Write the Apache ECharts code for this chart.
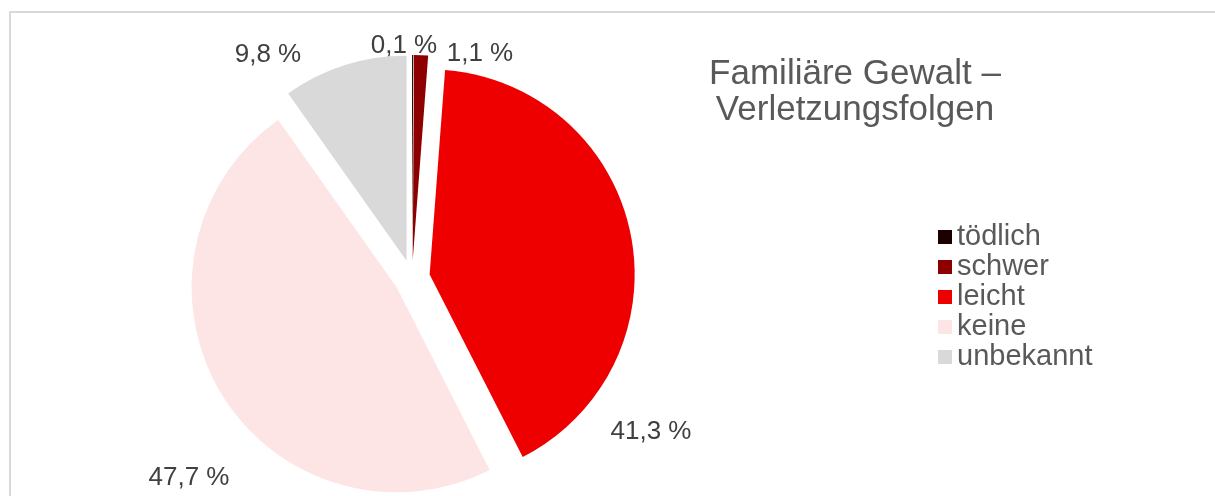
<!DOCTYPE html>
<html>
<head>
<meta charset="utf-8">
<script src="https://cdn.jsdelivr.net/npm/echarts@6/dist/echarts.min.js"></script>
<style>
html,body{margin:0;padding:0;background:#fff;}
#chart{width:1215px;height:496px;}
</style>
</head>
<body>
<div id="chart"></div>
<script>
const categories = ['tödlich', 'schwer', 'leicht', 'keine', 'unbekannt'];
const shares = [0.1, 1.1, 41.3, 47.7, 9.8];
const sliceColors = ['#1c0000', '#8e0000', '#ee0000', '#fde5e6', '#d9d9d9'];
const titleText = 'Familiäre Gewalt –\nVerletzungsfolgen';
// label anchor points (text centres), as placed in the reference
const labelSpots = [[404, 46], [480, 54], [651, 432], [189, 478], [268, 55]];

const chart = echarts.init(document.getElementById('chart'), null, {renderer: 'canvas'});
const fmt = v => v.toFixed(1).replace('.', ',') + ' %';
const FONT = 'Liberation Sans, Arial, sans-serif';

chart.setOption({
  animation: false,
  backgroundColor: '#ffffff',
  title: {
    text: titleText,
    left: 850,
    top: 51,
    textAlign: 'center',
    textStyle: {
      fontFamily: FONT,
      fontSize: 35,
      fontWeight: 'normal',
      color: '#595959',
      lineHeight: 36,
      align: 'center'
    }
  },
  legend: {
    orient: 'vertical',
    left: 933,
    top: 217,
    icon: 'rect',
    itemWidth: 14,
    itemHeight: 14,
    itemGap: 0,
    selectedMode: false,
    textStyle: {
      fontFamily: FONT,
      fontSize: 29,
      color: '#595959',
      lineHeight: 30
    },
    data: categories
  },
  graphic: [{
    type: 'rect',
    shape: {x: 10, y: 12, width: 1300, height: 600},
    style: {fill: 'none', stroke: '#d9d9d9', lineWidth: 2},
    silent: true,
    z: -10
  }],
  series: [{
    type: 'pie',
    center: [412, 278],
    radius: 205,
    startAngle: 90,
    clockwise: true,
    selectedMode: 'multiple',
    selectedOffset: 18,
    avoidLabelOverlap: false,
    minAngle: 0,
    emphasis: {disabled: true},
    itemStyle: {borderWidth: 0},
    label: {show: false},
    labelLine: {show: false},
    data: categories.map((c, i) => ({
      name: c,
      value: shares[i],
      selected: true,
      itemStyle: {color: sliceColors[i]}
    }))
  }, {
    // label-only layer over the same slices
    type: 'pie',
    center: [412, 278],
    radius: 205,
    startAngle: 90,
    clockwise: true,
    silent: true,
    avoidLabelOverlap: false,
    minAngle: 0,
    z: 1,
    emphasis: {disabled: true},
    itemStyle: {color: 'rgba(0,0,0,0)', borderWidth: 0},
    label: {
      show: true,
      position: 'outside',
      formatter: p => fmt(p.value),
      fontFamily: FONT,
      fontSize: 26,
      color: '#404040'
    },
    labelLine: {show: false},
    labelLayout: function (params) {
      const s = labelSpots[params.dataIndex];
      return {x: s[0], y: s[1], align: 'center', verticalAlign: 'middle'};
    },
    data: categories.map((c, i) => ({name: c, value: shares[i]}))
  }]
});
</script>
</body>
</html>
